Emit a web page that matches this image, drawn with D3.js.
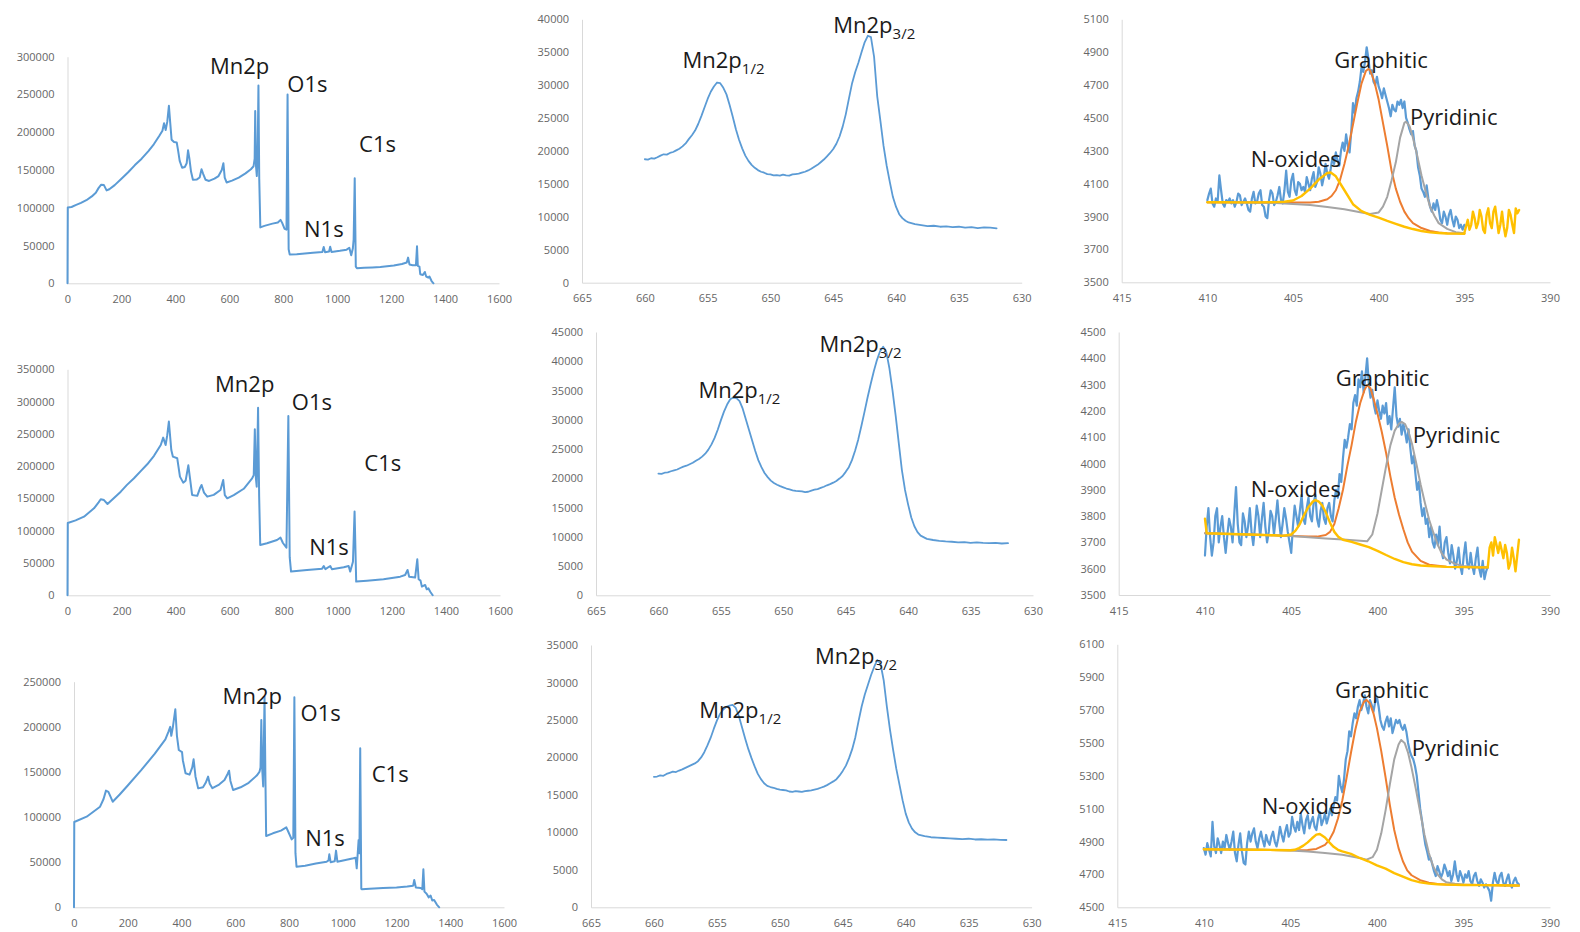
<!DOCTYPE html>
<html>
<head>
<meta charset="utf-8">
<script src="https://cdn.jsdelivr.net/npm/d3@7"></script>
<style>
  html, body { margin: 0; padding: 0; background: #fff; }
  svg { display: block; }
  .axis text { font-family: "Open Sans", sans-serif; font-size: 11px; fill: #666; }
  .axis path { stroke: #d9d9d9; stroke-width: 1; }
  .note { font-family: "Open Sans", sans-serif; font-size: 22px; fill: #1a1a1a; }
  .note tspan.sub { font-size: 15px; }
</style>
</head>
<body>
<svg id="chart" width="1580" height="932"></svg>
<script>
// ---------- tick values ----------
const surveyXTicks = [0, 200, 400, 600, 800, 1000, 1200, 1400, 1600];
const mn2pXTicks = [665, 660, 655, 650, 645, 640, 635, 630];
const n1sXTicks = [415, 410, 405, 400, 395, 390];

const sample1SurveyYTicks = [0, 50000, 100000, 150000, 200000, 250000, 300000];
const sample2SurveyYTicks = [0, 50000, 100000, 150000, 200000, 250000, 300000, 350000];
const sample3SurveyYTicks = [0, 50000, 100000, 150000, 200000, 250000];
const sample1Mn2pYTicks = [0, 5000, 10000, 15000, 20000, 25000, 30000, 35000, 40000];
const sample2Mn2pYTicks = [0, 5000, 10000, 15000, 20000, 25000, 30000, 35000, 40000, 45000];
const sample3Mn2pYTicks = [0, 5000, 10000, 15000, 20000, 25000, 30000, 35000];
const sample1N1sYTicks = [3500, 3700, 3900, 4100, 4300, 4500, 4700, 4900, 5100];
const sample2N1sYTicks = [3500, 3600, 3700, 3800, 3900, 4000, 4100, 4200, 4300, 4400, 4500];
const sample3N1sYTicks = [4500, 4700, 4900, 5100, 5300, 5500, 5700, 5900, 6100];

// ---------- survey spectra [x, counts] ----------
const sample1Survey = [
  [0,0],[1,100500],[15,101000],[30,103500],[50,106500],[70,110000],[90,115000],[105,120000],[115,126000],[125,130500],
  [135,130000],[145,123000],[155,124500],[175,130000],[200,138500],[225,147000],[250,156500],[275,165000],[300,175000],
  [320,184000],[340,195000],[352,202000],[358,212000],[364,203000],[370,214000],[376,235000],[381,212000],[386,190000],
  [395,187000],[405,186500],[410,176000],[416,162000],[425,153000],[435,154000],[442,159000],[447,176000],[452,165000],
  [458,148000],[465,137000],[480,137500],[490,140000],[497,151000],[503,145000],[512,137000],[525,135500],[545,138500],
  [560,142000],[572,150000],[578,159000],[583,140000],[590,133500],[610,136000],[635,140000],[660,145500],[680,151000],
  [690,155000],[694,165000],[696,228000],[699,155000],[702,142000],[705,170000],[708,262000],[711,138000],[715,74000],
  [730,76000],[760,79000],[780,80500],[790,84000],[796,80000],[805,72000],[812,71000],[816,250000],[820,45000],
  [824,38000],[850,38500],[880,39500],[910,40500],[945,41500],[950,48000],[955,41000],[970,42000],[974,48500],
  [979,41500],[1010,43000],[1035,44500],[1045,47000],[1052,37000],[1058,46000],[1061,58000],[1065,139000],[1069,22000],
  [1073,20000],[1100,20500],[1130,21000],[1160,21500],[1185,22500],[1210,23500],[1240,25500],[1258,27500],[1263,34000],
  [1268,25000],[1280,24000],[1292,24000],[1296,49000],[1299,23000],[1305,22000],[1308,12000],[1318,11000],[1325,15000],
  [1330,9000],[1338,7500],[1342,9000],[1350,3000],[1357,0]
];
const sample2Survey = [
  [0,0],[1,112000],[30,116000],[61,121800],[98,134700],[115,144000],[123,148700],[135,147500],[148,141400],[170,150000],
  [197,160500],[220,171000],[246,181200],[270,192000],[295,202900],[320,216000],[345,232800],[354,244200],[363,232800],
  [369,248000],[375,269000],[384,225000],[390,214700],[406,212200],[416,183800],[428,174500],[437,177500],[447,201300],
  [453,182000],[461,155400],[480,154000],[490,165700],[496,170900],[505,159000],[517,152800],[541,155500],[566,163100],
  [576,178600],[582,155000],[591,150200],[615,155000],[652,165000],[683,181200],[689,186000],[693,257000],[697,181000],
  [700,168300],[705,290600],[709,152800],[713,78000],[738,80500],[775,85700],[788,89300],[797,81000],[810,73800],
  [817,277700],[822,59000],[827,36700],[886,39200],[942,41300],[948,45400],[954,40500],[972,45400],[978,40500],
  [1022,43400],[1040,45400],[1046,36700],[1056,52100],[1062,129600],[1068,21200],[1108,22700],[1169,24800],[1231,28900],
  [1249,31500],[1258,39200],[1264,28900],[1286,27500],[1294,55700],[1299,24800],[1306,22700],[1311,13400],[1323,16000],
  [1329,9300],[1335,10800],[1342,5500],[1351,0]
];
const sample3Survey = [
  [0,0],[1,94500],[47,100400],[97,111500],[110,120000],[119,129300],[128,128000],[144,117000],[170,125000],[200,135000],
  [250,152000],[300,170000],[340,186000],[352,195000],[358,200000],[362,190000],[368,200000],[377,219400],[383,190000],
  [390,174300],[402,172000],[405,163000],[415,148500],[430,147000],[440,155000],[445,164000],[452,145000],[462,131800],
  [480,133000],[490,138000],[499,144800],[505,137000],[515,132000],[540,136000],[560,141000],[572,148000],[577,151400],
  [582,140000],[592,130000],[620,133000],[650,138000],[680,146000],[690,150000],[694,155000],[697,207500],[700,155000],
  [704,134000],[709,233400],[712,150000],[715,79000],[740,82000],[770,85000],[790,88600],[797,84000],[810,75300],
  [816,77000],[820,232700],[824,60000],[828,45000],[860,46000],[900,48500],[940,50500],[947,52000],[950,58700],
  [955,50000],[970,51000],[975,62800],[980,50500],[1010,52500],[1040,54300],[1048,55000],[1052,43200],[1059,74600],
  [1062,60000],[1065,176200],[1069,20500],[1072,19900],[1100,20500],[1150,21500],[1200,22000],[1240,23000],[1262,24000],
  [1266,30300],[1272,22000],[1290,21500],[1296,20000],[1300,42100],[1304,17400],[1312,15000],[1320,11000],[1327,13000],
  [1333,7500],[1340,8000],[1350,3000],[1359,0]
];

// ---------- Mn 2p spectra [binding energy, counts] ----------
const sample1Mn2p = [
  [660.0,18750],[659.75,18700],[659.5,18900],[659.25,18850],[659.0,19050],[658.75,19300],[658.5,19500],[658.25,19450],
  [658.0,19700],[657.75,19850],[657.5,20100],[657.25,20350],[657.0,20700],[656.75,21150],[656.5,21800],[656.25,22400],
  [656.0,23100],[655.75,24100],[655.5,25300],[655.25,26600],[655.0,27900],[654.75,29000],[654.5,29800],[654.25,30400],
  [654.0,30300],[653.75,29600],[653.5,28600],[653.25,27000],[653.0,25200],[652.75,23300],[652.5,21700],[652.25,20400],
  [652.0,19300],[651.75,18500],[651.5,17900],[651.25,17450],[651.0,17100],[650.75,16850],[650.5,16700],[650.25,16500],
  [650.0,16450],[649.75,16300],[649.5,16350],[649.25,16250],[649.0,16400],[648.75,16300],[648.5,16250],[648.25,16450],
  [648.0,16500],[647.75,16550],[647.5,16700],[647.25,16850],[647.0,17050],[646.75,17300],[646.5,17600],[646.25,17900],
  [646.0,18300],[645.75,18700],[645.5,19200],[645.25,19700],[645.0,20300],[644.75,21100],[644.5,22200],[644.25,23700],
  [644.0,25600],[643.75,28000],[643.5,30300],[643.25,32000],[643.0,33400],[642.75,35000],[642.5,36500],[642.25,37500],
  [642.0,37300],[641.75,34300],[641.5,28300],[641.25,24600],[641.0,20800],[640.75,17800],[640.5,15300],[640.25,13000],
  [640.0,11500],[639.75,10400],[639.5,9800],[639.25,9400],[639.0,9150],[638.5,8900],[638.0,8750],[637.5,8600],
  [637.0,8650],[636.5,8500],[636.0,8550],[635.5,8450],[635.0,8500],[634.5,8350],[634.0,8450],[633.5,8300],
  [633.0,8400],[632.5,8350],[632.0,8250]
];
const sample2Mn2p = [
  [660.0,20800],[659.75,20750],[659.5,20950],[659.25,21000],[659.0,21200],[658.75,21350],[658.5,21500],[658.25,21750],
  [658.0,22000],[657.75,22150],[657.5,22400],[657.25,22650],[657.0,23000],[656.75,23300],[656.5,23700],[656.25,24200],
  [656.0,24900],[655.75,25800],[655.5,26900],[655.25,28300],[655.0,29900],[654.75,31400],[654.5,32600],[654.25,33500],
  [654.0,33800],[653.75,33700],[653.5,33200],[653.25,31900],[653.0,30100],[652.75,28300],[652.5,26500],[652.25,24700],
  [652.0,23100],[651.75,21900],[651.5,20900],[651.25,20200],[651.0,19600],[650.75,19200],[650.5,18900],[650.25,18650],
  [650.0,18450],[649.75,18250],[649.5,18100],[649.25,17950],[649.0,17850],[648.75,17800],[648.5,17750],[648.25,17650],
  [648.0,17700],[647.75,17900],[647.5,18050],[647.25,18150],[647.0,18350],[646.75,18550],[646.5,18800],[646.25,19000],
  [646.0,19250],[645.75,19550],[645.5,19950],[645.25,20400],[645.0,21100],[644.75,21900],[644.5,23100],[644.25,24700],
  [644.0,26600],[643.75,28900],[643.5,31300],[643.25,33800],[643.0,36100],[642.75,38300],[642.5,40200],[642.25,41700],
  [642.0,42500],[641.75,41600],[641.5,38800],[641.25,35000],[641.0,30700],[640.75,26000],[640.5,21400],[640.25,18000],
  [640.0,15500],[639.75,13300],[639.5,11800],[639.25,10800],[639.0,10200],[638.5,9650],[638.0,9450],[637.5,9300],
  [637.0,9200],[636.5,9150],[636.0,9050],[635.5,9100],[635.0,8950],[634.5,9050],[634.0,8950],[633.5,8900],
  [633.0,8950],[632.5,8850],[632.0,8900]
];
const sample3Mn2p = [
  [660.0,17400],[659.75,17450],[659.5,17600],[659.25,17550],[659.0,17800],[658.75,17950],[658.5,18100],[658.25,18050],
  [658.0,18250],[657.75,18400],[657.5,18600],[657.25,18800],[657.0,19000],[656.75,19200],[656.5,19500],[656.25,20000],
  [656.0,20700],[655.75,21600],[655.5,22600],[655.25,23800],[655.0,24900],[654.75,25800],[654.5,26400],[654.25,26750],
  [654.0,26900],[653.75,27000],[653.5,26600],[653.25,25500],[653.0,24000],[652.75,22500],[652.5,21100],[652.25,19900],
  [652.0,18800],[651.75,17800],[651.5,17100],[651.25,16550],[651.0,16200],[650.75,16050],[650.5,15950],[650.25,15800],
  [650.0,15700],[649.75,15650],[649.5,15600],[649.25,15450],[649.0,15400],[648.75,15500],[648.5,15450],[648.25,15400],
  [648.0,15500],[647.75,15550],[647.5,15600],[647.25,15700],[647.0,15800],[646.75,15950],[646.5,16100],[646.25,16300],
  [646.0,16550],[645.75,16800],[645.5,17100],[645.25,17600],[645.0,18200],[644.75,18900],[644.5,19900],[644.25,21100],
  [644.0,22700],[643.75,24800],[643.5,26800],[643.25,28400],[643.0,29700],[642.75,31000],[642.5,32100],[642.25,33000],
  [642.0,32500],[641.75,30300],[641.5,26800],[641.25,23700],[641.0,21000],[640.75,18500],[640.5,16400],[640.25,14300],
  [640.0,12500],[639.75,11300],[639.5,10500],[639.25,10000],[639.0,9700],[638.5,9500],[638.0,9350],[637.5,9300],
  [637.0,9250],[636.5,9200],[636.0,9150],[635.5,9100],[635.0,9150],[634.5,9050],[634.0,9080],[633.5,9020],
  [633.0,9060],[632.5,9000],[632.0,8980]
];

// ---------- N 1s spectra: measured counts [binding energy, counts] ----------
const sample1N1sRaw = [
  [410.0,4000],[409.9,4040],[409.8,4070],[409.7,3980],[409.6,3960],[409.5,4010],[409.4,3990],[409.3,4150],[409.2,4060],[409.1,3980],
  [409.0,3960],[408.9,4000],[408.8,3990],[408.7,4010],[408.6,3980],[408.5,4000],[408.4,3960],[408.3,3990],[408.2,4040],[408.1,4030],
  [408.0,3970],[407.9,3990],[407.8,4010],[407.7,3980],[407.6,3940],[407.5,3930],[407.4,4010],[407.3,4050],[407.2,3980],[407.1,3990],
  [407.0,4040],[406.9,4060],[406.8,3970],[406.7,3960],[406.6,3900],[406.5,3890],[406.4,4000],[406.3,4060],[406.2,4040],[406.1,3970],
  [406.0,3990],[405.9,4030],[405.8,4080],[405.7,4000],[405.6,3980],[405.5,4060],[405.4,4180],[405.3,4050],[405.2,4020],[405.1,4120],
  [405.0,4160],[404.9,4060],[404.8,4030],[404.7,4110],[404.6,4100],[404.5,4060],[404.4,4080],[404.3,4050],[404.2,4140],[404.1,4100],
  [404.0,4060],[403.9,4130],[403.8,4170],[403.7,4080],[403.6,4110],[403.5,4200],[403.4,4160],[403.3,4090],[403.2,4140],[403.1,4220],
  [403.0,4160],[402.9,4130],[402.8,4190],[402.7,4260],[402.6,4220],[402.5,4290],[402.4,4240],[402.3,4210],[402.2,4300],[402.1,4350],
  [402.0,4300],[401.9,4400],[401.8,4330],[401.7,4290],[401.6,4420],[401.5,4590],[401.4,4530],[401.3,4620],[401.2,4660],[401.1,4720],
  [401.0,4810],[400.9,4780],[400.8,4840],[400.7,4930],[400.6,4860],[400.5,4770],[400.4,4790],[400.3,4720],[400.2,4700],[400.1,4750],
  [400.0,4690],[399.9,4660],[399.8,4620],[399.7,4680],[399.6,4640],[399.5,4600],[399.4,4560],[399.3,4510],[399.2,4580],[399.1,4550],
  [399.0,4540],[398.9,4600],[398.8,4580],[398.7,4610],[398.6,4560],[398.5,4600],[398.4,4500],[398.3,4470],[398.2,4430],[398.1,4400],
  [398.0,4420],[397.9,4330],[397.8,4300],[397.7,4200],[397.6,4150],[397.5,4070],[397.4,4050],[397.3,4020],[397.2,4090],[397.1,4010],
  [397.0,3960],[396.9,3930],[396.8,3980],[396.7,3940],[396.6,4000],[396.5,3950],[396.4,3880],[396.3,3860],[396.2,3930],[396.1,3900],
  [396.0,3850],[395.9,3910],[395.8,3940],[395.7,3880],[395.6,3840],[395.5,3900],[395.4,3880],[395.3,3830],[395.2,3850],[395.1,3820],
  [395.0,3850]
];
const sample1Tail = [
  [395.0,3800],[394.9,3840],[394.8,3880],[394.7,3820],[394.6,3850],[394.5,3930],[394.4,3890],[394.3,3830],[394.2,3860],[394.1,3940],
  [394.0,3900],[393.9,3820],[393.8,3800],[393.7,3910],[393.6,3950],[393.5,3860],[393.4,3830],[393.3,3930],[393.2,3960],[393.1,3880],
  [393.0,3800],[392.9,3850],[392.8,3930],[392.7,3840],[392.6,3780],[392.5,3830],[392.4,3940],[392.3,3910],[392.2,3850],[392.1,3800],
  [392.0,3950],[391.9,3920],[391.8,3940]
];
const sample2N1sRaw = [
  [410.0,3650],[409.9,3760],[409.8,3830],[409.7,3720],[409.6,3650],[409.5,3700],[409.4,3800],[409.3,3830],[409.2,3700],[409.1,3760],
  [409.0,3800],[408.9,3720],[408.8,3660],[408.7,3730],[408.6,3790],[408.5,3760],[408.4,3700],[408.3,3810],[408.2,3910],[408.1,3770],
  [408.0,3700],[407.9,3690],[407.8,3810],[407.7,3780],[407.6,3720],[407.5,3760],[407.4,3830],[407.3,3740],[407.2,3690],[407.1,3760],
  [407.0,3840],[406.9,3800],[406.8,3720],[406.7,3790],[406.6,3850],[406.5,3760],[406.4,3700],[406.3,3740],[406.2,3820],[406.1,3800],
  [406.0,3730],[405.9,3790],[405.8,3860],[405.7,3780],[405.6,3720],[405.5,3770],[405.4,3830],[405.3,3790],[405.2,3740],[405.1,3700],
  [405.0,3660],[404.9,3760],[404.8,3840],[404.7,3800],[404.6,3760],[404.5,3820],[404.4,3880],[404.3,3790],[404.2,3770],[404.1,3830],
  [404.0,3870],[403.9,3800],[403.8,3780],[403.7,3850],[403.6,3880],[403.5,3790],[403.4,3760],[403.3,3820],[403.2,3850],[403.1,3790],
  [403.0,3770],[402.9,3830],[402.8,3850],[402.7,3800],[402.6,3780],[402.5,3860],[402.4,3900],[402.3,3870],[402.2,3960],[402.1,3930],
  [402.0,4020],[401.9,4090],[401.8,4060],[401.7,4100],[401.6,4150],[401.5,4130],[401.4,4230],[401.3,4260],[401.2,4220],[401.1,4320],
  [401.0,4290],[400.9,4350],[400.8,4270],[400.7,4330],[400.6,4400],[400.5,4300],[400.4,4250],[400.3,4280],[400.2,4220],[400.1,4190],
  [400.0,4240],[399.9,4200],[399.8,4170],[399.7,4220],[399.6,4190],[399.5,4230],[399.4,4150],[399.3,4180],[399.2,4130],[399.1,4210],
  [399.0,4290],[398.9,4180],[398.8,4140],[398.7,4170],[398.6,4110],[398.5,4150],[398.4,4120],[398.3,4080],[398.2,4130],[398.1,4060],
  [398.0,4000],[397.9,4030],[397.8,3960],[397.7,3900],[397.6,3930],[397.5,3850],[397.4,3800],[397.3,3830],[397.2,3770],[397.1,3790],
  [397.0,3720],[396.9,3760],[396.8,3700],[396.7,3680],[396.6,3730],[396.5,3690],[396.4,3760],[396.3,3670],[396.2,3640],[396.1,3700],
  [396.0,3720],[395.9,3660],[395.8,3620],[395.7,3690],[395.6,3650],[395.5,3600],[395.4,3630],[395.3,3680],[395.2,3610],[395.1,3580],
  [395.0,3650],[394.9,3700],[394.8,3620],[394.7,3600],[394.6,3660],[394.5,3610],[394.4,3580],[394.3,3640],[394.2,3680],[394.1,3600],
  [394.0,3570],[393.9,3630],[393.8,3560],[393.7,3590],[393.6,3610]
];
const sample2Tail = [
  [393.6,3610],[393.5,3680],[393.4,3700],[393.3,3650],[393.2,3720],[393.1,3690],[393.0,3660],[392.9,3700],[392.8,3670],[392.7,3640],
  [392.6,3690],[392.5,3660],[392.4,3600],[392.3,3620],[392.2,3680],[392.1,3640],[392.0,3590],[391.9,3650],[391.8,3710]
];
const sample3N1sRaw = [
  [410.0,4860],[409.9,4820],[409.8,4890],[409.7,4850],[409.6,4810],[409.5,5020],[409.4,4870],[409.3,4830],[409.2,4920],[409.1,4880],
  [409.0,4830],[408.9,4900],[408.8,4860],[408.7,4940],[408.6,4890],[408.5,4850],[408.4,4900],[408.3,4960],[408.2,4830],[408.1,4780],
  [408.0,4880],[407.9,4950],[407.8,4840],[407.7,4770],[407.6,4760],[407.5,4890],[407.4,4960],[407.3,4900],[407.2,4950],[407.1,4980],
  [407.0,4900],[406.9,4860],[406.8,4920],[406.7,4960],[406.6,4910],[406.5,4870],[406.4,4940],[406.3,4900],[406.2,4880],[406.1,4930],
  [406.0,4960],[405.9,4900],[405.8,4870],[405.7,4920],[405.6,4990],[405.5,4940],[405.4,4900],[405.3,4960],[405.2,5000],[405.1,4930],
  [405.0,4950],[404.9,5050],[404.8,4990],[404.7,4960],[404.6,5020],[404.5,4970],[404.4,5070],[404.3,5000],[404.2,4950],[404.1,5030],
  [404.0,5060],[403.9,4980],[403.8,5020],[403.7,5050],[403.6,4990],[403.5,4970],[403.4,5040],[403.3,5080],[403.2,5000],[403.1,5030],
  [403.0,5070],[402.9,5010],[402.8,5050],[402.7,5100],[402.6,5060],[402.5,5120],[402.4,5170],[402.3,5150],[402.2,5300],[402.1,5240],
  [402.0,5200],[401.9,5280],[401.8,5400],[401.7,5450],[401.6,5570],[401.5,5540],[401.4,5620],[401.3,5680],[401.2,5650],[401.1,5720],
  [401.0,5760],[400.9,5700],[400.8,5740],[400.7,5790],[400.6,5720],[400.5,5680],[400.4,5760],[400.3,5730],[400.2,5690],[400.1,5750],
  [400.0,5780],[399.9,5720],[399.8,5640],[399.7,5600],[399.6,5580],[399.5,5630],[399.4,5660],[399.3,5600],[399.2,5650],[399.1,5560],
  [399.0,5600],[398.9,5640],[398.8,5620],[398.7,5640],[398.6,5600],[398.5,5580],[398.4,5610],[398.3,5570],[398.2,5500],[398.1,5450],
  [398.0,5420],[397.9,5400],[397.8,5360],[397.7,5300],[397.6,5200],[397.5,5100],[397.4,5030],[397.3,4950],[397.2,4880],[397.1,4840],
  [397.0,4790],[396.9,4800],[396.8,4760],[396.7,4720],[396.6,4690],[396.5,4750],[396.4,4720],[396.3,4680],[396.2,4710],[396.1,4760],
  [396.0,4730],[395.9,4690],[395.8,4720],[395.7,4660],[395.6,4700],[395.5,4780],[395.4,4700],[395.3,4660],[395.2,4720],[395.1,4690],
  [395.0,4650],[394.9,4700],[394.8,4680],[394.7,4720],[394.6,4660],[394.5,4640],[394.4,4690],[394.3,4710],[394.2,4660],[394.1,4630],
  [394.0,4670],[393.9,4650],[393.8,4620],[393.7,4640],[393.6,4620],[393.5,4600],[393.4,4540],[393.3,4650],[393.2,4710],[393.1,4660],
  [393.0,4640],[392.9,4690],[392.8,4710],[392.7,4650],[392.6,4630],[392.5,4670],[392.4,4700],[392.3,4640],[392.2,4620],[392.1,4660],
  [392.0,4680],[391.9,4650],[391.8,4640]
];

// ---------- N 1s fitted components (peak + background) ----------
const sample1Graphitic = [
  [410,3987],[408,3987],[406,3986],[405,3986],[404,3985],[403.5,3990],[403,4005],[402.75,4025],[402.5,4060],[402.25,4125],
  [402,4220],[401.75,4330],[401.5,4460],[401.25,4590],[401,4710],[400.75,4785],[400.6,4798],[400.5,4790],[400.25,4720],
  [400,4610],[399.75,4470],[399.5,4330],[399.25,4180],[399,4070],[398.75,3990],[398.5,3930],[398.25,3890],[398,3860],
  [397.5,3830],[397,3812],[396.5,3803],[396,3799],[395,3797]
];
const sample1Pyridinic = [
  [410,3987],[408,3985],[406,3982],[405,3977],[404,3970],[403,3958],[402,3945],[401,3925],[400.5,3915],[400,3925],
  [399.75,3960],[399.5,4020],[399.25,4120],[399,4230],[398.75,4380],[398.5,4470],[398.4,4478],[398.2,4450],[398,4380],
  [397.75,4270],[397.5,4150],[397.25,4050],[397,3960],[396.75,3905],[396.5,3860],[396,3825],[395.5,3805],[395,3798]
];
const sample1NOxides = [
  [410,3987],[409,3987],[408,3986],[407,3986],[406,3988],[405.5,3990],[405,3998],[404.5,4025],[404,4070],[403.5,4125],
  [403,4165],[402.8,4168],[402.5,4145],[402,4060],[401.5,3975],[401,3933],[400.5,3910],[400,3893],[399.5,3873],
  [399,3855],[398.5,3838],[398,3824],[397.5,3812],[397,3804],[396.5,3800],[396,3797],[395.5,3796],[395,3795]
];
const sample2Graphitic = [
  [410,3735],[408,3731],[406,3727],[405,3724],[404,3722],[403.5,3722],[403,3728],[402.75,3740],[402.5,3770],[402.25,3830],
  [402,3900],[401.75,3990],[401.5,4070],[401.25,4160],[401,4230],[400.75,4280],[400.6,4298],[400.4,4285],[400.2,4240],
  [400,4190],[399.75,4120],[399.5,4040],[399.25,3950],[399,3870],[398.75,3805],[398.5,3750],[398.25,3700],[398,3665],
  [397.5,3630],[397,3615],[396,3607],[395,3606],[393.6,3605]
];
const sample2Pyridinic = [
  [410,3735],[408,3731],[406,3727],[405,3724],[404,3720],[403,3715],[402,3711],[401,3706],[400.6,3704],[400.3,3730],
  [400,3810],[399.75,3900],[399.5,3990],[399.25,4070],[399,4125],[398.75,4152],[398.6,4158],[398.4,4150],[398.2,4120],
  [398,4075],[397.75,4000],[397.5,3920],[397.25,3850],[397,3785],[396.75,3735],[396.5,3690],[396.25,3655],[396,3635],
  [395.5,3618],[395,3610],[394,3606],[393.6,3605]
];
const sample2NOxides = [
  [410,3790],[409.9,3735],[409,3733],[408,3731],[407,3729],[406,3727],[405.5,3725],[405,3730],[404.75,3745],[404.5,3770],
  [404.25,3805],[404,3835],[403.75,3855],[403.6,3861],[403.4,3855],[403.2,3840],[403,3815],[402.75,3775],[402.5,3740],
  [402.25,3720],[402,3710],[401.5,3702],[401,3692],[400.5,3682],[400,3668],[399.5,3652],[399,3637],[398.5,3625],
  [398,3617],[397.5,3612],[397,3610],[396,3607],[395,3606],[394,3605],[393.6,3605]
];
const sample3Graphitic = [
  [410,4853],[408,4851],[406,4849],[405,4847],[404,4848],[403.5,4855],[403,4880],[402.75,4910],[402.5,4960],[402.25,5040],
  [402,5150],[401.75,5290],[401.5,5440],[401.25,5580],[401,5690],[400.75,5750],[400.6,5762],[400.4,5740],[400.2,5680],
  [400,5590],[399.75,5450],[399.5,5290],[399.25,5120],[399,4970],[398.75,4860],[398.5,4780],[398.25,4725],[398,4695],
  [397.5,4665],[397,4650],[396.5,4642],[396,4639],[395,4636],[394,4635],[393,4634],[392,4633],[391.8,4632]
];
const sample3Pyridinic = [
  [410,4853],[408,4851],[406,4849],[405,4846],[404,4840],[403,4830],[402,4820],[401,4800],[400.6,4790],[400.25,4805],
  [400,4850],[399.75,4950],[399.5,5090],[399.25,5250],[399,5400],[398.75,5490],[398.6,5518],[398.4,5500],[398.2,5440],
  [398,5350],[397.75,5220],[397.5,5080],[397.25,4940],[397,4830],[396.75,4750],[396.5,4700],[396.25,4670],[396,4653],
  [395.5,4643],[395,4639],[394,4636],[393,4634],[392,4633],[391.8,4632]
];
const sample3NOxides = [
  [410,4853],[409,4852],[408,4851],[407,4850],[406,4849],[405,4847],[404.75,4850],[404.5,4860],[404.25,4875],[404,4895],
  [403.75,4920],[403.5,4942],[403.3,4946],[403,4925],[402.75,4895],[402.5,4868],[402.25,4850],[402,4840],[401.5,4825],
  [401,4800],[400.5,4780],[400,4755],[399.5,4735],[399,4708],[398.5,4686],[398,4665],[397.5,4652],[397,4644],
  [396.5,4640],[396,4638],[395,4636],[394,4635],[393,4634],[392,4633],[391.8,4632]
];

// ---------- peak labels (text starts at [x, y] in data units) ----------
const sample1SurveyNotes = [
  { text: "Mn2p", x: 528, y: 277000 }, { text: "O1s", x: 815, y: 253700 },
  { text: "N1s", x: 877, y: 61700 }, { text: "C1s", x: 1081, y: 173400 }
];
const sample2SurveyNotes = [
  { text: "Mn2p", x: 546, y: 315300 }, { text: "O1s", x: 830, y: 287400 },
  { text: "N1s", x: 894, y: 62000 }, { text: "C1s", x: 1098, y: 193000 }
];
const sample3SurveyNotes = [
  { text: "Mn2p", x: 553, y: 225300 }, { text: "O1s", x: 843, y: 206400 },
  { text: "N1s", x: 860, y: 67800 }, { text: "C1s", x: 1108, y: 138500 }
];
const sample1Mn2pNotes = [
  { text: "Mn2p", sub: "1/2", x: 657.0, y: 32570 }, { text: "Mn2p", sub: "3/2", x: 645.0, y: 37890 }
];
const sample2Mn2pNotes = [
  { text: "Mn2p", sub: "1/2", x: 656.8, y: 33670 }, { text: "Mn2p", sub: "3/2", x: 647.1, y: 41630 }
];
const sample3Mn2pNotes = [
  { text: "Mn2p", sub: "1/2", x: 656.4, y: 25300 }, { text: "Mn2p", sub: "3/2", x: 647.2, y: 32420 }
];
const sample1N1sNotes = [
  { text: "Graphitic", x: 402.6, y: 4802 }, { text: "Pyridinic", x: 398.17, y: 4457 }, { text: "N-oxides", x: 407.47, y: 4200 }
];
const sample2N1sNotes = [
  { text: "Graphitic", x: 402.42, y: 4295 }, { text: "Pyridinic", x: 397.96, y: 4077 }, { text: "N-oxides", x: 407.35, y: 3871 }
];
const sample3N1sNotes = [
  { text: "Graphitic", x: 402.42, y: 5771 }, { text: "Pyridinic", x: 397.99, y: 5420 }, { text: "N-oxides", x: 406.66, y: 5068 }
];

// ---------- colours ----------
const BLUE = "#5b9bd5", ORANGE = "#ed7d31", GRAY = "#a5a5a5", GOLD = "#ffc000";

// ---------- panel layout: plot box [left, right, top, bottom] ----------
const panels = [
  { box: [67.5, 499, 56.7, 283.3], xDomain: [0, 1600], xTicks: surveyXTicks, yTicks: sample1SurveyYTicks,
    lines: [[sample1Survey, BLUE, 2]], notes: sample1SurveyNotes },
  { box: [582, 1021.7, 19.3, 282.7], xDomain: [665, 630], xTicks: mn2pXTicks, yTicks: sample1Mn2pYTicks,
    lines: [[sample1Mn2p, BLUE, 1.8]], notes: sample1Mn2pNotes },
  { box: [1121.7, 1550, 19.3, 282.3], xDomain: [415, 390], xTicks: n1sXTicks, yTicks: sample1N1sYTicks,
    lines: [[sample1N1sRaw, BLUE, 2.2], [sample1Graphitic, ORANGE, 2], [sample1Pyridinic, GRAY, 2],
            [sample1NOxides, GOLD, 2.4], [sample1Tail, GOLD, 2.4]], notes: sample1N1sNotes },

  { box: [67.5, 500, 369.3, 595.3], xDomain: [0, 1600], xTicks: surveyXTicks, yTicks: sample2SurveyYTicks,
    lines: [[sample2Survey, BLUE, 2]], notes: sample2SurveyNotes },
  { box: [596, 1033, 332, 595.3], xDomain: [665, 630], xTicks: mn2pXTicks, yTicks: sample2Mn2pYTicks,
    lines: [[sample2Mn2p, BLUE, 1.8]], notes: sample2Mn2pNotes },
  { box: [1118.7, 1550, 332, 595], xDomain: [415, 390], xTicks: n1sXTicks, yTicks: sample2N1sYTicks,
    lines: [[sample2N1sRaw, BLUE, 2.2], [sample2Graphitic, ORANGE, 2], [sample2Pyridinic, GRAY, 2],
            [sample2NOxides, GOLD, 2.4], [sample2Tail, GOLD, 2.4]], notes: sample2N1sNotes },

  { box: [74, 504, 681.7, 907.3], xDomain: [0, 1600], xTicks: surveyXTicks, yTicks: sample3SurveyYTicks,
    lines: [[sample3Survey, BLUE, 2]], notes: sample3SurveyNotes },
  { box: [591, 1031.6, 645, 907.3], xDomain: [665, 630], xTicks: mn2pXTicks, yTicks: sample3Mn2pYTicks,
    lines: [[sample3Mn2p, BLUE, 1.8]], notes: sample3Mn2pNotes },
  { box: [1117.3, 1550, 644.3, 907.3], xDomain: [415, 390], xTicks: n1sXTicks, yTicks: sample3N1sYTicks,
    lines: [[sample3N1sRaw, BLUE, 2.2], [sample3Graphitic, ORANGE, 2], [sample3Pyridinic, GRAY, 2],
            [sample3NOxides, GOLD, 2.4]], notes: sample3N1sNotes }
];

const svg = d3.select("#chart");
const fmt = d3.format("d");

panels.forEach(p => {
  const [l, r, t, b] = p.box;
  const x = d3.scaleLinear().domain(p.xDomain).range([l, r]);
  const y = d3.scaleLinear().domain([p.yTicks[0], p.yTicks[p.yTicks.length - 1]]).range([b, t]);
  const g = svg.append("g");

  g.append("g").attr("class", "axis").attr("transform", `translate(0,${b})`)
    .call(d3.axisBottom(x).tickValues(p.xTicks).tickSize(0).tickPadding(12).tickFormat(fmt))
    .call(s => s.attr("font-family", null).attr("font-size", null));

  g.append("g").attr("class", "axis").attr("transform", `translate(${l},0)`)
    .call(d3.axisLeft(y).tickValues(p.yTicks).tickSize(0).tickPadding(13).tickFormat(fmt))
    .call(s => s.attr("font-family", null).attr("font-size", null));

  const line = d3.line().x(d => x(d[0])).y(d => y(d[1]));
  p.lines.forEach(([data, color, w]) => {
    g.append("path").datum(data)
      .attr("d", line)
      .attr("fill", "none")
      .attr("stroke", color)
      .attr("stroke-width", w)
      .attr("stroke-linejoin", "round")
      .attr("stroke-linecap", "round");
  });

  p.notes.forEach(n => {
    const txt = g.append("text").attr("class", "note")
      .attr("x", x(n.x)).attr("y", y(n.y)).text(n.text);
    if (n.sub) {
      txt.append("tspan").attr("class", "sub").attr("dy", 6).text(n.sub);
    }
  });
});
</script>
</body>
</html>
